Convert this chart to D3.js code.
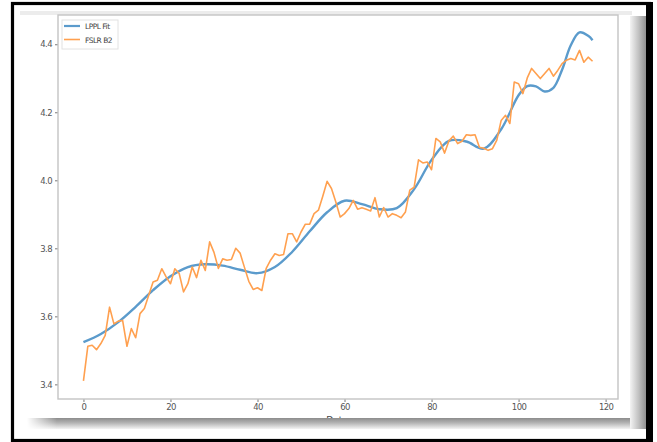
<!DOCTYPE html>
<html lang="en"><head><meta charset="utf-8">
<title>LPPL fit</title>
<script src="https://cdn.jsdelivr.net/npm/d3@7"></script>
<style>
  body { margin: 0; background: #fff; }
  text { font-family: "DejaVu Sans", sans-serif; }
</style>
</head>
<body>
<script>
// observed series, one value per index 0..117
var priceValues = [
  3.410, 3.512, 3.515, 3.502, 3.520, 3.544, 3.627, 3.578, 3.586, 3.588,
  3.512, 3.564, 3.537, 3.608, 3.623, 3.662, 3.701, 3.706, 3.740, 3.716,
  3.696, 3.740, 3.726, 3.672, 3.696, 3.745, 3.714, 3.765, 3.735, 3.819,
  3.788, 3.741, 3.769, 3.765, 3.767, 3.800, 3.786, 3.744, 3.703, 3.679,
  3.684, 3.676, 3.741, 3.765, 3.784, 3.779, 3.782, 3.843, 3.843, 3.819,
  3.848, 3.871, 3.871, 3.902, 3.912, 3.953, 3.997, 3.976, 3.936, 3.892,
  3.902, 3.917, 3.941, 3.915, 3.919, 3.915, 3.910, 3.949, 3.892, 3.920,
  3.892, 3.902, 3.897, 3.890, 3.907, 3.971, 3.980, 4.060, 4.051, 4.054,
  4.031, 4.123, 4.113, 4.080, 4.116, 4.130, 4.108, 4.115, 4.134, 4.132,
  4.134, 4.097, 4.094, 4.088, 4.093, 4.118, 4.176, 4.191, 4.167, 4.289,
  4.284, 4.255, 4.301, 4.329, 4.314, 4.299, 4.314, 4.329, 4.306, 4.323,
  4.343, 4.353, 4.358, 4.354, 4.382, 4.347, 4.362, 4.350
];

// fitted curve, read at these indices
var fitIndex = [0, 4, 8, 12, 16, 20, 24, 28, 32, 36, 40, 44, 48, 52, 56, 60, 64, 68,
  72, 76, 80, 84, 88, 92, 96, 100, 102, 104, 106, 108, 110, 112, 114, 116, 117];
var fitValues = [3.524, 3.548, 3.583, 3.628, 3.677, 3.718, 3.745, 3.753, 3.749, 3.737,
  3.727, 3.745, 3.790, 3.850, 3.906, 3.940, 3.930, 3.915, 3.918, 3.974, 4.060, 4.116,
  4.114, 4.093, 4.150, 4.250, 4.277, 4.276, 4.261, 4.272, 4.325, 4.397, 4.435, 4.425, 4.412];

var xTicks = [0, 20, 40, 60, 80, 100, 120];
var yTicks = [3.4, 3.6, 3.8, 4.0, 4.2, 4.4];
var seriesNames = ["LPPL Fit", "FSLR B2"];
var seriesColors = ["#5b9bcc", "#ffa04f"];

var W = 657, H = 442;
var box = {left: 58, top: 15, right: 618, bottom: 399};

var svg = d3.select("body").append("svg")
    .attr("width", W)
    .attr("height", H);

var defs = svg.append("defs");
var gB = defs.append("linearGradient").attr("id", "shB")
    .attr("x1", 0).attr("y1", 0).attr("x2", 0).attr("y2", 1);
gB.append("stop").attr("offset", "0").attr("stop-color", "#8c8c8c");
gB.append("stop").attr("offset", "0.45").attr("stop-color", "#b4b4b4");
gB.append("stop").attr("offset", "1").attr("stop-color", "#f4f4f4");
var gR = defs.append("linearGradient").attr("id", "shR")
    .attr("x1", 0).attr("y1", 0).attr("x2", 1).attr("y2", 0);
gR.append("stop").attr("offset", "0").attr("stop-color", "#f4f4f4");
gR.append("stop").attr("offset", "0.5").attr("stop-color", "#c2c2c2");
gR.append("stop").attr("offset", "1").attr("stop-color", "#8a8a8a");
var gL = defs.append("linearGradient").attr("id", "fadeL")
    .attr("x1", 0).attr("y1", 0).attr("x2", 1).attr("y2", 0);
gL.append("stop").attr("offset", "0").attr("stop-color", "#fff").attr("stop-opacity", 1);
gL.append("stop").attr("offset", "1").attr("stop-color", "#fff").attr("stop-opacity", 0);

// faint top edge of the figure
svg.append("rect")
    .attr("x", 20).attr("y", 11)
    .attr("width", 612).attr("height", 4)
    .attr("fill", "#ececec");

var x = d3.scaleLinear().domain([-5.85, 122.85]).range([box.left, box.right]);
var y = d3.scaleLinear().domain([3.357, 4.486]).range([box.bottom, box.top]);

var xAxis = d3.axisBottom(x).tickValues(xTicks).tickSize(3).tickPadding(2)
    .tickFormat(d3.format("d"));
var yAxis = d3.axisLeft(y).tickValues(yTicks).tickSize(3).tickPadding(3)
    .tickFormat(d3.format(".1f"));

var gx = svg.append("g")
    .attr("transform", "translate(0," + box.bottom + ")")
    .call(xAxis);
var gy = svg.append("g")
    .attr("transform", "translate(" + box.left + ",0)")
    .call(yAxis);

svg.selectAll(".domain").remove();
svg.selectAll(".tick line").attr("stroke", "#777");
svg.selectAll(".tick text")
    .attr("fill", "#555")
    .attr("font-size", 8.5)
    .attr("letter-spacing", -0.6);

// axes frame
svg.append("rect")
    .attr("x", box.left).attr("y", box.top)
    .attr("width", box.right - box.left)
    .attr("height", box.bottom - box.top)
    .attr("fill", "none")
    .attr("stroke", "#c4c4c4")
    .attr("stroke-width", 1.4);

var fitLine = d3.line()
    .x(function(d, i) { return x(fitIndex[i]); })
    .y(function(d) { return y(d); })
    .curve(d3.curveCatmullRom.alpha(0.5));

var priceLine = d3.line()
    .x(function(d, i) { return x(i); })
    .y(function(d) { return y(d); });

svg.append("path")
    .datum(fitValues)
    .attr("fill", "none")
    .attr("stroke", seriesColors[0])
    .attr("stroke-width", 2.4)
    .attr("d", fitLine);

svg.append("path")
    .datum(priceValues)
    .attr("fill", "none")
    .attr("stroke", seriesColors[1])
    .attr("stroke-width", 1.6)
    .attr("stroke-linejoin", "round")
    .attr("d", priceLine);

// legend
var legend = svg.append("g").attr("transform", "translate(62,20)");
legend.append("rect")
    .attr("width", 56).attr("height", 29)
    .attr("fill", "#fff")
    .attr("stroke", "#e2e2e2");
seriesNames.forEach(function(name, i) {
  var ly = 6 + i * 13.5;
  legend.append("line")
      .attr("x1", 2).attr("x2", 18)
      .attr("y1", ly).attr("y2", ly)
      .attr("stroke", seriesColors[i])
      .attr("stroke-width", i == 0 ? 2.2 : 1.6);
  legend.append("text")
      .attr("x", 23).attr("y", ly + 3)
      .attr("font-size", 7.5)
      .attr("letter-spacing", -0.5)
      .attr("fill", "#444")
      .text(name);
});

// x label, mostly hidden under the shadow
svg.append("text")
    .attr("x", 337).attr("y", 423)
    .attr("text-anchor", "middle")
    .attr("font-size", 9)
    .attr("fill", "#444")
    .text("Date");

// drop shadows of the pasted figure
svg.append("rect")
    .attr("x", 27).attr("y", 418)
    .attr("width", 620).attr("height", 11)
    .attr("fill", "url(#shB)");
svg.append("rect")
    .attr("x", 27).attr("y", 418)
    .attr("width", 30).attr("height", 11)
    .attr("fill", "url(#fadeL)");
svg.append("rect")
    .attr("x", 630).attr("y", 16)
    .attr("width", 17).attr("height", 413)
    .attr("fill", "url(#shR)");

// outer black border
svg.append("rect")
    .attr("x", 12.5).attr("y", 3.5)
    .attr("width", 637).attr("height", 437)
    .attr("fill", "none")
    .attr("stroke", "#000")
    .attr("stroke-width", 3.2);
svg.append("rect")
    .attr("x", 646).attr("y", 2)
    .attr("width", 7).attr("height", 440)
    .attr("fill", "#000");
</script>
</body></html>
